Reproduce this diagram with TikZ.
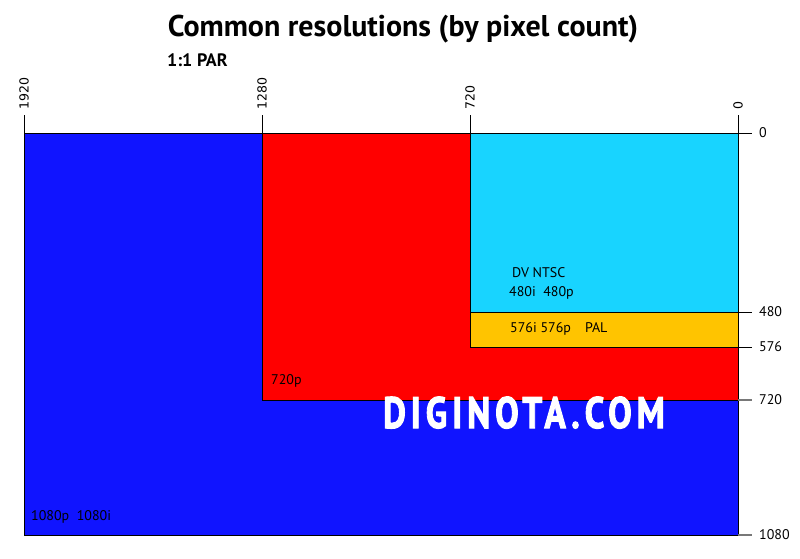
\documentclass[tikz,border=0pt]{standalone}
\usepackage{fontspec}
\setmainfont{PT Sans}
\newfontfamily\tickfont{DejaVu Sans}
\newfontfamily\wmfont{PT Sans}[LetterSpace=14, FakeBold=2.5]
\definecolor{hdblue}{RGB}{16,20,255}
\definecolor{hdred}{RGB}{255,0,0}
\definecolor{sdcyan}{RGB}{24,212,255}
\definecolor{palorange}{RGB}{255,196,0}
\definecolor{tickgray}{RGB}{120,120,120}
\tikzset{
  area/.style={draw=black, line width=0.8pt},
  tickline/.style={draw=black, line width=0.7pt},
  ticklinegray/.style={draw=tickgray, line width=1.2pt},
  toplabel/.style={rotate=90, anchor=west, inner sep=0pt, font=\tickfont\fontsize{12.5}{12.5}\selectfont},
  rightlabel/.style={anchor=west, inner sep=0pt, font=\fontsize{14}{14}\selectfont},
  boxlabel/.style={anchor=west, inner sep=0pt, font=\fontsize{14}{14}\selectfont},
}
\begin{document}
\begin{tikzpicture}[x=1pt,y=-1pt]
\useasboundingbox (0,0) rectangle (800,558);
\fill[white] (0,0) rectangle (800,558);
% areas
\path[area, fill=hdblue] (24,133) rectangle (738,535);
\path[area, fill=hdred] (262,133) rectangle (738,400);
\path[area, fill=sdcyan] (470,133) rectangle (738,312);
\path[area, fill=palorange] (470,312) rectangle (738,347);
% top ticks
\foreach \x/\t in {24/1920, 262/1280, 470/720, 738/0}{
  \coordinate (tt\t) at (\x,115);
  \coordinate (tb\t) at (\x,133);
  \draw[tickline] (tt\t) -- (tb\t);
  \node[toplabel] (tl\t) at (\x,110) {\t};
}
% right ticks
\foreach \y/\t/\s in {133/0/tickline, 312/480/tickline, 347/576/tickline, 400/720/ticklinegray, 535/1080/ticklinegray}{
  \coordinate (rl\t) at (738,\y);
  \coordinate (rr\t) at (752,\y);
  \draw[\s] (rl\t) -- (rr\t);
  \node[rightlabel] (rlab\t) at (759,\y) {\t};
}
% titles
\node[anchor=base, inner sep=0pt, font=\bfseries\fontsize{30}{30}\selectfont] (title) at (403,36) {Common resolutions (by pixel count)};
\node[anchor=base west, inner sep=0pt, font=\bfseries\fontsize{18}{18}\selectfont] (par) at (167,66) {1:1 PAR};
% labels
\node[boxlabel] (ntsc) at (512,273) {DV NTSC};
\node[boxlabel] (ntscres) at (509,293) {480i\ \ 480p};
\node[boxlabel] (pal) at (510,329) {576i 576p\quad PAL};
\node[boxlabel] (hd720) at (271,381) {720p};
\node[boxlabel] (hd1080) at (31,517) {1080p\ \ 1080i};
% watermark
\node[anchor=base, inner sep=0pt, text=white, font=\wmfont\bfseries\fontsize{44}{44}\selectfont] (wm) at (524,428) {\scalebox{0.8}[1]{DIGINOTA.COM}};
\end{tikzpicture}
\end{document}
